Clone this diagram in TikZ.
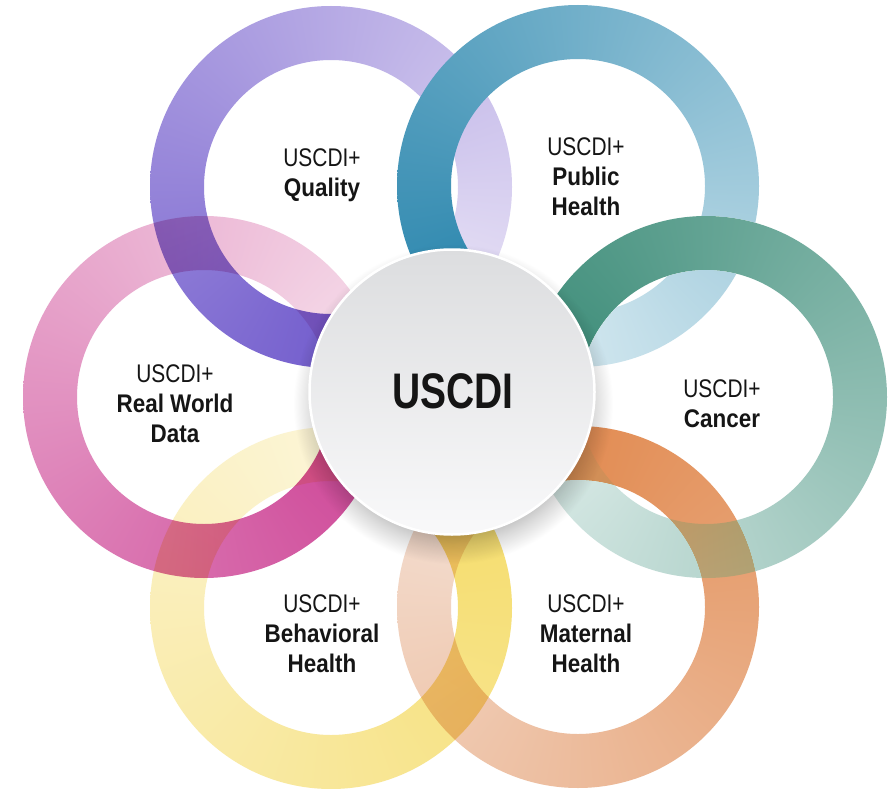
\documentclass[tikz,border=0pt]{standalone}
\usepackage{fontspec}
\setmainfont{Liberation Sans}
\newfontfamily\lblreg{Liberation Sans}[FakeStretch=0.82]
\newfontfamily\lblbf{Liberation Sans}[FakeStretch=0.88]
\newfontfamily\ctrfont{Liberation Sans}[FakeStretch=0.78]

% conic (angular) shading: name, seam angle, light rgb, dark rgb
\newcommand\ringshade[8]{%
  \pgfdeclarefunctionalshading{#1}{\pgfpoint{-50bp}{-50bp}}{\pgfpoint{50bp}{50bp}}{}{%
    0.0137 add exch 0.0171 add atan #2 sub 360 add 360 div dup floor sub
    dup dup #6 #3 sub mul #3 add 3 1 roll #7 #4 sub mul #4 add exch #8 #5 sub mul #5 add
  }%
}
\ringshade{shQual}{300.6}{0.93}{0.91}{0.97}{0.41}{0.32}{0.79}
\ringshade{shPub}{238.5}{0.88}{0.94}{0.96}{0.14}{0.51}{0.67}
\ringshade{shCan}{178.9}{0.89}{0.94}{0.93}{0.22}{0.54}{0.46}
\ringshade{shMat}{120.4}{0.96}{0.89}{0.85}{0.88}{0.52}{0.28}
\ringshade{shBeh}{60.7}{0.99}{0.97}{0.88}{0.96}{0.86}{0.40}
\ringshade{shRwd}{1.2}{0.97}{0.89}{0.93}{0.80}{0.25}{0.58}

\pgfdeclareradialshading{cshadow}{\pgfpoint{0bp}{0bp}}{%
  color(0bp)=(black!30); color(19bp)=(black!30); color(22bp)=(black!14);
  color(25bp)=(white); color(50bp)=(white)}

\definecolor{ctop}{HTML}{DCDDDF}
\definecolor{cbot}{HTML}{F9F9FA}
\definecolor{txt}{HTML}{151515}

\tikzset{
  ring/.style={even odd rule},
  lbl/.style={anchor=base, inner sep=0pt, text=txt,
    font=\fontsize{25.5}{30}\selectfont},
}
\newcommand\lbltext[1]{\begin{tabular}[t]{@{}c@{}}\lblreg USCDI+\\ #1\end{tabular}}
\newcommand\bb{\lblbf\bfseries}

\begin{document}
\begin{tikzpicture}[x=1pt,y=-1pt]
\fill[white] (0,0) rectangle (894,789);
\useasboundingbox (0,0) rectangle (894,789);

\coordinate (cQ) at (331,187);
\coordinate (cP) at (578,186);
\coordinate (cK) at (706,397);
\coordinate (cM) at (578,607);
\coordinate (cB) at (331,608);
\coordinate (cR) at (204,397);
\coordinate (cC) at (452,392);

\begin{scope}[blend mode=multiply]
  \shade[ring, shading=shRwd]  (cR) circle[radius=181pt] (cR) circle[radius=127pt];
  \shade[ring, shading=shBeh]  (cB) circle[radius=181pt] (cB) circle[radius=127pt];
  \shade[ring, shading=shMat]  (cM) circle[radius=181pt] (cM) circle[radius=127pt];
\end{scope}
\begin{scope}[blend mode=darken]
  \shade[ring, shading=shCan]  (cK) circle[radius=181pt] (cK) circle[radius=127pt];
\end{scope}
\begin{scope}[blend mode=multiply]
  \shade[ring, shading=shQual] (cQ) circle[radius=181pt] (cQ) circle[radius=127pt];
\end{scope}
\begin{scope}[blend mode=darken]
  \shade[ring, shading=shPub]  (cP) circle[radius=181pt] (cP) circle[radius=127pt];
\end{scope}
\begin{scope}[blend mode=multiply]
  \shade[shading=cshadow] (453,404) circle[radius=160pt];
\end{scope}

\shadedraw[top color=ctop, bottom color=cbot, draw=white, line width=2.5pt]
  (cC) circle[radius=142.5pt];

\node[anchor=base, inner sep=0pt, text=txt, font=\ctrfont\bfseries\fontsize{50}{60}\selectfont]
  (ctr) at (453,408) {USCDI};

\node[lbl] (lQ) at (322,167) {\lbltext{\bb Quality}};
\node[lbl] (lP) at (586,155) {\lbltext{\bb Public\\ \bb Health}};
\node[lbl] (lK) at (722,397) {\lbltext{\bb Cancer}};
\node[lbl] (lM) at (586,612) {\lbltext{\bb Maternal\\ \bb Health}};
\node[lbl] (lB) at (322,612) {\lbltext{\bb Behavioral\\ \bb Health}};
\node[lbl] (lR) at (175,382) {\lbltext{\bb Real World\\ \bb Data}};
\end{tikzpicture}
\end{document}
